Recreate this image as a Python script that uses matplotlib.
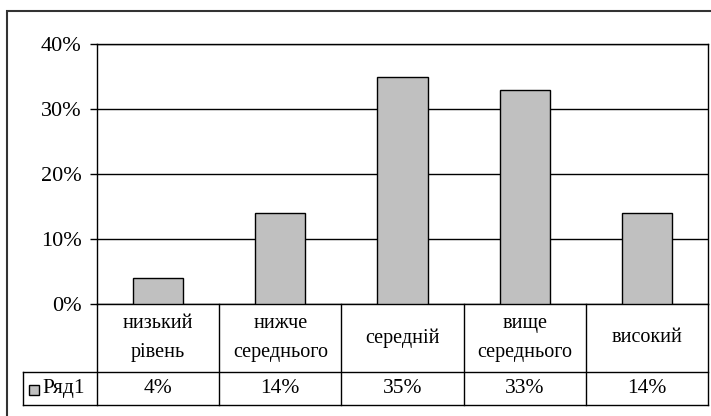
import matplotlib as mpl
import matplotlib.pyplot as plt
from matplotlib.patches import Rectangle
import matplotlib.transforms as mtransforms

mpl.rcParams["font.family"] = ["Liberation Serif", "DejaVu Serif"]

categories = ["низький\nрівень", "нижче\nсереднього", "середній", "вище\nсереднього", "високий"]
values = [4, 14, 35, 33, 14]
series_name = "Ряд1"
yticks = [0, 10, 20, 30, 40]

W, H = 711, 416
fig = plt.figure(figsize=(W / 100, H / 100), dpi=100)

# plot area in pixels
px_l, px_r, px_t, px_b = 97, 708, 44, 304
ax = fig.add_axes([px_l / W, 1 - px_b / H, (px_r - px_l) / W, (px_b - px_t) / H])

bar_color = "#C0C0C0"
n = len(categories)
ax.bar(range(n), values, width=0.41, color=bar_color, edgecolor="black", linewidth=1, zorder=3)
ax.set_xlim(-0.5, n - 0.5)
ax.set_ylim(0, 40)
ax.set_yticks(yticks)
ax.set_yticklabels([f"{y}%" for y in yticks], fontsize=16)
ax.yaxis.grid(True, color="black", linewidth=1, zorder=0)
ax.set_xticks([])
ax.tick_params(axis="y", direction="out", length=5, width=1, pad=6)
for s in ax.spines.values():
    s.set_linewidth(1)
    s.set_color("black")

# data table below the plot
trans = mtransforms.blended_transform_factory(ax.transData, ax.transAxes)
h_ax = px_b - px_t
row1 = -(372 - px_b) / h_ax
row2 = -(405 - px_b) / h_ax
x_left_tab = -0.5 - (px_l - 23) / ((px_r - px_l) / n)
line_kw = dict(color="black", linewidth=1, transform=trans, clip_on=False)
ax.plot([x_left_tab, n - 0.5], [row1, row1], **line_kw)
ax.plot([x_left_tab, n - 0.5], [row2, row2], **line_kw)
ax.plot([x_left_tab, x_left_tab], [row1, row2], **line_kw)
for i in range(n + 1):
    ax.plot([i - 0.5, i - 0.5], [0, row2], **line_kw)
for i, (cat, v) in enumerate(zip(categories, values)):
    ax.text(i, row1 / 2, cat, transform=trans, ha="center", va="center",
            fontsize=14.5, linespacing=1.75)
    ax.text(i, (row1 + row2) / 2, f"{v}%", transform=trans, ha="center", va="center", fontsize=15.5)

# legend key in the table
fig.patches.append(Rectangle((29 / W, 1 - 395 / H), 10 / W, 10 / H, transform=fig.transFigure,
                             facecolor=bar_color, edgecolor="black", linewidth=1))
fig.text(42 / W, 1 - 389 / H, series_name, ha="left", va="center", fontsize=15.5)

# outer chart frame
fig.patches.append(Rectangle((7 / W, -10 / H), (W + 10) / W, (H - 11 + 10) / H, transform=fig.transFigure,
                             facecolor="none", edgecolor="#333333", linewidth=1.5))

fig.savefig("out.png", dpi=100)
